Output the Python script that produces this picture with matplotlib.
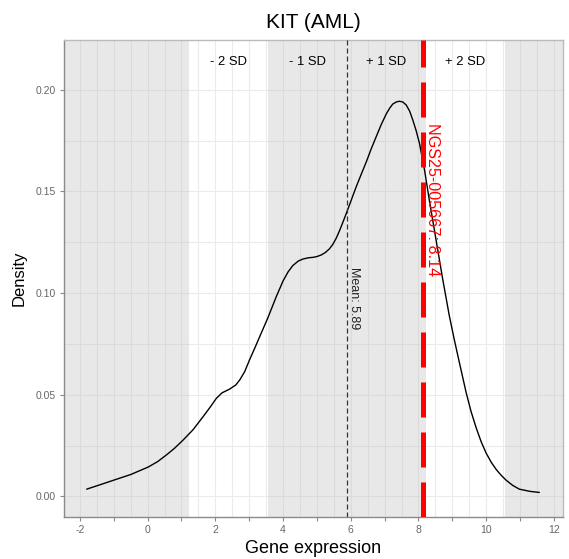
import numpy as np
import matplotlib.pyplot as plt

plt.rcParams['font.family'] = ['Liberation Sans', 'DejaVu Sans']

# --- data ---
dens_x = [-1.80, -1.40, -0.97, -0.50, 0.02, 0.30, 0.56, 0.80, 1.05, 1.34,
          1.64, 1.85, 2.03, 2.20, 2.42, 2.60, 2.72, 2.87, 3.01, 3.16, 3.31,
          3.55, 3.80, 4.00, 4.15, 4.29, 4.45, 4.59, 4.75, 4.88, 5.00, 5.13,
          5.25, 5.37, 5.47, 5.57, 5.67, 5.77, 5.87, 6.02, 6.16, 6.31, 6.46,
          6.60, 6.75, 6.90, 7.05, 7.15, 7.24, 7.34, 7.44, 7.54, 7.64, 7.74,
          7.83, 7.93, 8.03, 8.18, 8.32, 8.52, 8.72, 8.91, 9.06, 9.20, 9.41,
          9.55, 9.70, 9.85, 10.00, 10.15, 10.30, 10.45, 10.59, 10.78, 10.98,
          11.30, 11.57]
dens_y = [0.0036, 0.0058, 0.0082, 0.0108, 0.0145, 0.0172, 0.0205, 0.0238,
          0.0278, 0.0328, 0.0393, 0.0440, 0.0483, 0.0510, 0.0528, 0.0548,
          0.0573, 0.0615, 0.0672, 0.0728, 0.0786, 0.0878, 0.0983, 0.1060,
          0.1105, 0.1136, 0.1158, 0.1168, 0.1174, 0.1176, 0.1180, 0.1188,
          0.1200, 0.1218, 0.1240, 0.1270, 0.1308, 0.1350, 0.1393, 0.1460,
          0.1523, 0.1585, 0.1646, 0.1708, 0.1769, 0.1829, 0.1882, 0.1910,
          0.1930, 0.1940, 0.1944, 0.1940, 0.1925, 0.1895, 0.1853, 0.1800,
          0.1737, 0.1605, 0.1458, 0.1261, 0.1065, 0.0890, 0.0770, 0.0665,
          0.0510, 0.0420, 0.0340, 0.0270, 0.0213, 0.0168, 0.0132, 0.0103,
          0.0080, 0.0055, 0.0036, 0.0025, 0.0020]

mean_val = 5.89
sd_val = 2.33
sample_name = "NGS25-005667"
sample_val = 8.14
sd_labels = ["- 2 SD", "- 1 SD", "+ 1 SD", "+ 2 SD"]
sd_label_pos = [-1.5, -0.5, 0.5, 1.5]   # in SD units from the mean

title = "KIT (AML)"

# --- figure ---
fig = plt.figure(figsize=(5.69, 5.59), dpi=100)
ax = fig.add_axes([0.1125, 0.0751, 0.877, 0.8533])

xlim = (-2.47, 12.27)
ylim = (-0.0101, 0.2245)

# grid under everything
ax.set_axisbelow(True)
ax.set_xticks(np.arange(-2, 13, 1))
ax.set_xticklabels([str(v) if v % 2 == 0 else "" for v in range(-2, 13)])
ax.set_xticks(np.arange(-2.5, 12.5, 0.5), minor=True)
ax.set_yticks(np.arange(0, 0.201, 0.05))
ax.set_yticklabels([f"{v:.2f}" for v in np.arange(0, 0.201, 0.05)])
ax.set_yticks(np.arange(-0.025, 0.23, 0.025), minor=True)
ax.grid(which='both', color='#EBEBEB', linewidth=0.8)

# shaded bands: outside +-2 SD and inside +-1 SD
band_col = '#BEBEBE'
ax.axvspan(-10, mean_val - 2 * sd_val, color=band_col, alpha=0.35, lw=0)
ax.axvspan(mean_val - sd_val, mean_val + sd_val, color=band_col, alpha=0.35, lw=0)
ax.axvspan(mean_val + 2 * sd_val, 20, color=band_col, alpha=0.35, lw=0)

# density curve
ax.plot(dens_x, dens_y, color='black', lw=1.0, zorder=3,
        solid_joinstyle='round', solid_capstyle='round')

# mean line
ax.plot([mean_val, mean_val], [ylim[0], ylim[1]], color='#333333', lw=0.9,
        dashes=(4.0, 2.4), zorder=4)
ax.text(mean_val + 0.22, 0.0977, f"Mean: {mean_val:.2f}", rotation=270,
        ha='center', va='center', fontsize=9, color='#222222', zorder=5)

# sample line
ax.plot([sample_val, sample_val], [ylim[0], ylim[1]], color='#FF0000', lw=3.6,
        dashes=(7, 3), solid_capstyle='butt', dash_capstyle='butt', zorder=4)
ax.text(sample_val + 0.27, 0.146, f"{sample_name}: {sample_val:.2f}",
        rotation=270, ha='center', va='center', fontsize=11.6, color='#FF0000',
        zorder=5)

# SD labels
for lab, k in zip(sd_labels, sd_label_pos):
    ax.text(mean_val + k * sd_val, 0.2137, lab, ha='center', va='center',
            fontsize=9.4, color='black', zorder=5)

ax.set_xlim(*xlim)
ax.set_ylim(*ylim)

ax.tick_params(which='major', length=3, width=0.8, color='#888888',
               labelcolor='#666666', labelsize=7.5, pad=3)
ax.tick_params(which='minor', length=0)
for side in ['left', 'bottom']:
    ax.spines[side].set_color('#8A8A8A')
    ax.spines[side].set_linewidth(1.0)
for side in ['top', 'right']:
    ax.spines[side].set_color('#BBBBBB')
    ax.spines[side].set_linewidth(1.0)

ax.set_title(title, fontsize=15, pad=9)
ax.set_xlabel("Gene expression", fontsize=13, labelpad=3)
ax.set_ylabel("Density", fontsize=12, labelpad=6)

fig.savefig("out.png", dpi=100)
